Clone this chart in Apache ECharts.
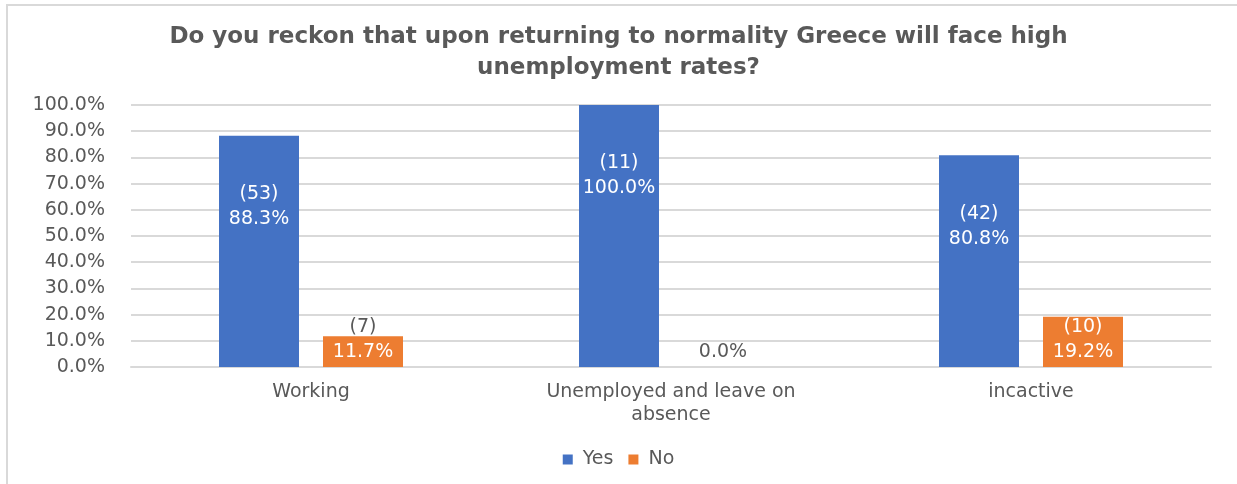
<!DOCTYPE html>
<html>
<head>
<meta charset="utf-8">
<script src="https://cdn.jsdelivr.net/npm/echarts@6/dist/echarts.min.js"></script>
<style>
html,body{margin:0;padding:0;background:#fff;}
#chart{width:1237px;height:484px;}
</style>
</head>
<body>
<div id="chart"></div>
<script>
const titleText = 'Do you reckon that upon returning to normality Greece will face high\nunemployment rates?';
const categories = ['Working', 'Unemployed and leave on\nabsence', 'incactive'];
const seriesNames = ['Yes', 'No'];
const yesPercent = [88.3, 100.0, 80.8];
const yesCounts = [53, 11, 42];
const noPercent = [11.7, 0.0, 19.2];
const noCounts = [7, 0, 10];

const BLUE = '#4472C4', ORANGE = '#ED7D31', GREY = '#595959';
const labelFont = 'DejaVu Sans';

const chart = echarts.init(document.getElementById('chart'));

function yesLabel(p) {
  return '{w|(' + yesCounts[p.dataIndex] + ')}\n{w|' + p.value.toFixed(1) + '%}';
}
function noLabel(p) {
  const v = p.value;
  if (v === 0) return '{g|' + v.toFixed(1) + '%}';
  const top = v < 15 ? 'g' : 'w';
  return '{' + top + '|(' + noCounts[p.dataIndex] + ')}\n{w|' + v.toFixed(1) + '%}';
}
const rich = {
  w: { color: '#ffffff', fontFamily: labelFont, fontSize: 19, lineHeight: 25 },
  g: { color: GREY, fontFamily: labelFont, fontSize: 19, lineHeight: 25 }
};

chart.setOption({
  animation: false,
  backgroundColor: '#ffffff',
  title: {
    text: titleText,
    left: 'center',
    top: 17,
    textStyle: { fontFamily: 'DejaVu Sans', fontWeight: 'bold', fontSize: 23, color: GREY, lineHeight: 31 }
  },
  legend: {
    data: seriesNames,
    bottom: 10,
    left: 'center',
    itemWidth: 10,
    itemHeight: 10,
    itemGap: 15,
    icon: 'rect',
    textStyle: { fontFamily: labelFont, fontSize: 19, color: GREY, padding: [0, 0, 0, 5] }
  },
  grid: { left: 131, right: 26, top: 105, bottom: 117 },
  xAxis: {
    type: 'category',
    data: categories,
    axisLine: { lineStyle: { color: '#d9d9d9', width: 2 } },
    axisTick: { show: false },
    axisLabel: { fontFamily: labelFont, fontSize: 19, color: GREY, margin: 14, lineHeight: 23 }
  },
  yAxis: {
    type: 'value',
    min: 0,
    max: 100,
    interval: 10,
    axisLine: { show: false },
    axisTick: { show: false },
    splitLine: { lineStyle: { color: '#d9d9d9', width: 2 } },
    axisLabel: {
      fontFamily: labelFont, fontSize: 19, color: GREY, margin: 26,
      formatter: v => v.toFixed(1) + '%'
    }
  },
  series: [
    {
      name: seriesNames[0],
      type: 'bar',
      data: yesPercent,
      barWidth: 80,
      barGap: '30%',
      itemStyle: { color: BLUE },
      label: { show: true, position: 'insideTop', distance: 46, formatter: yesLabel, rich: rich, align: 'center' }
    },
    {
      name: seriesNames[1],
      type: 'bar',
      data: noPercent,
      barWidth: 80,
      itemStyle: { color: ORANGE },
      label: { show: true, position: 'insideBottom', distance: 2, formatter: noLabel, rich: rich, align: 'center' }
    }
  ],
  graphic: [
    {
      type: 'polyline',
      shape: { points: [[7, 484], [7, 5], [1237, 5]] },
      style: { stroke: '#d9d9d9', lineWidth: 2, fill: null },
      silent: true
    }
  ]
});
</script>
</body>
</html>
